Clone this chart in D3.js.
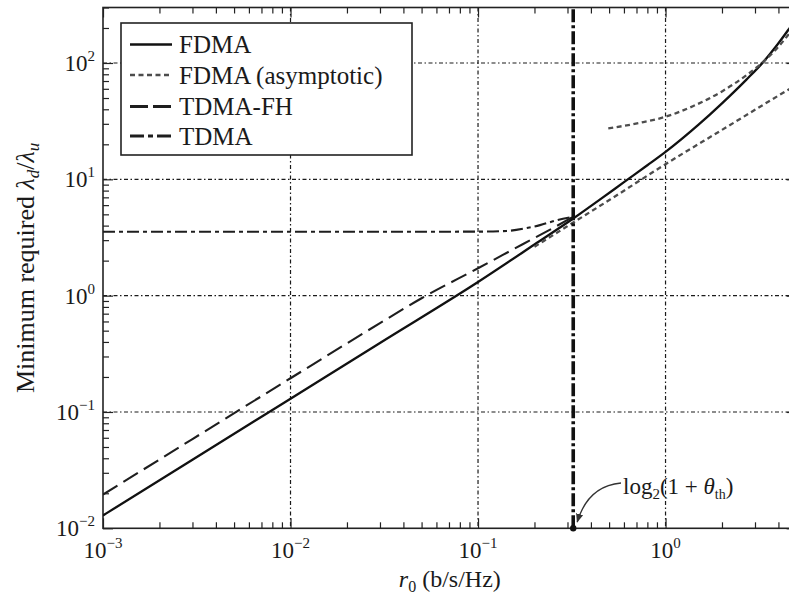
<!DOCTYPE html>
<html>
<head>
<meta charset="utf-8">
<script src="https://cdn.jsdelivr.net/npm/d3@7/dist/d3.min.js"></script>
<style>
  html, body { margin: 0; padding: 0; background: #fff; }
  svg { display: block; }
  text { font-family: "Liberation Serif", "Times New Roman", serif; fill: #1a1a1a; }
</style>
</head>
<body>
<svg id="chart" width="789" height="603"></svg>
<script>
// Rate axis r0 (b/s/Hz) and minimum required density ratio for each scheme.
const rateFDMA   = [0.001, 0.003, 0.01, 0.03, 0.1, 0.2, 0.322, 0.45, 0.608, 0.8, 1, 1.5, 2, 2.7, 3.32, 4, 4.52, 5];
const ratioFDMA  = [0.0129, 0.0388, 0.13, 0.392, 1.31, 2.75, 4.6, 6.75, 9.6, 13.2, 17.2, 29.5, 45, 72, 102, 148, 193, 243];

// Two asymptotic expressions for FDMA (low-rate and high-rate regimes).
const rateAsymLow   = [0.2, 0.322, 0.506, 1, 2, 4.52, 5];
const ratioAsymLow  = [2.63, 4.25, 6.7, 13.5, 26.6, 59, 65];
const rateAsymHigh  = [0.495, 0.73, 1, 1.407, 2, 2.71, 3.19, 4, 4.52, 5];
const ratioAsymHigh = [27.4, 30.6, 34.5, 42.7, 57, 78.8, 96.7, 138, 175, 215];

const rateTDMAFH  = [0.001, 0.003, 0.01, 0.03, 0.05, 0.1, 0.174, 0.25, 0.322];
const ratioTDMAFH = [0.0195, 0.0585, 0.195, 0.58, 0.95, 1.72, 2.78, 3.8, 4.77];

const rateTDMA  = [0.001, 0.01, 0.1, 0.142, 0.18, 0.214, 0.263, 0.322];
const ratioTDMA = [3.54, 3.54, 3.55, 3.6, 3.8, 4.04, 4.45, 4.77];

// log2(1 + theta_th) with theta_th = 0.25
const thresholdRate = Math.log2(1 + 0.25);

const xMajor = [1e-3, 1e-2, 1e-1, 1];
const yMajor = [1e-2, 1e-1, 1, 10, 100];
const legendLabels = ["FDMA", "FDMA (asymptotic)", "TDMA-FH", "TDMA"];

// ---------------------------------------------------------------
const svg = d3.select("#chart");
const pLeft = 103, pRight = 796.6, pTop = 7.5, pBottom = 528.3;

const x = d3.scaleLog().domain([1e-3, 5]).range([pLeft, pRight]);
const y = d3.scaleLog().domain([1e-2, 300]).range([pBottom, pTop]);

function minors(majors, maxVal) {
  const out = [];
  majors.forEach(m => { for (let k = 2; k <= 9; k++) { const v = m * k; if (v <= maxVal) out.push(v); } });
  return out;
}
const xMinor = minors(xMajor, 5);
const yMinor = minors(yMajor, 300);

const defs = svg.append("defs");
defs.append("clipPath").attr("id", "plotclip")
  .append("rect").attr("x", pLeft).attr("y", pTop).attr("width", pRight - pLeft).attr("height", pBottom - pTop);

const plot = svg.append("g");

// Grid at decades
const gridStyle = sel => sel.attr("stroke", "#1a1a1a").attr("stroke-width", 1.2)
  .attr("stroke-dasharray", "4,2.5,1.5,2.5").attr("fill", "none");
plot.append("g").selectAll("line").data(xMajor.filter(v => v > 1e-3)).join("line")
  .attr("x1", d => x(d)).attr("x2", d => x(d)).attr("y1", pTop).attr("y2", pBottom).call(gridStyle);
plot.append("g").selectAll("line").data(yMajor.filter(v => v > 1e-2)).join("line")
  .attr("x1", pLeft).attr("x2", pRight).attr("y1", d => y(d)).attr("y2", d => y(d)).call(gridStyle);

// Ticks drawn inward on all four sides
const ax = plot.append("g");
[[xMajor, 10], [xMinor, 6]].forEach(([vals, len]) => {
  ax.append("g").attr("transform", `translate(0,${pBottom})`)
    .call(d3.axisBottom(x).tickValues(vals).tickSize(-len).tickFormat(""));
  ax.append("g").attr("transform", `translate(0,${pTop})`)
    .call(d3.axisTop(x).tickValues(vals).tickSize(-len).tickFormat(""));
});
[[yMajor, 10], [yMinor, 6]].forEach(([vals, len]) => {
  ax.append("g").attr("transform", `translate(${pLeft},0)`)
    .call(d3.axisLeft(y).tickValues(vals).tickSize(-len).tickFormat(""));
  ax.append("g").attr("transform", `translate(${pRight},0)`)
    .call(d3.axisRight(y).tickValues(vals).tickSize(-len).tickFormat(""));
});
ax.selectAll(".domain").remove();
ax.selectAll("line").attr("stroke", "#222").attr("stroke-width", 1.2);

// Frame
plot.append("rect").attr("x", pLeft).attr("y", pTop).attr("width", pRight - pLeft).attr("height", pBottom - pTop)
  .attr("fill", "none").attr("stroke", "#222").attr("stroke-width", 1.6);

// Tick labels (powers of ten)
function powerLabel(sel, v) {
  const e = Math.round(Math.log10(v));
  sel.append("tspan").text("10");
  sel.append("tspan").attr("dy", -10).attr("font-size", 15).text(e < 0 ? "\u2212" + (-e) : String(e));
}
xMajor.forEach(v => {
  svg.append("text").attr("x", x(v)).attr("y", 558).attr("text-anchor", "middle")
    .attr("font-size", 23).call(powerLabel, v);
});
yMajor.forEach(v => {
  svg.append("text").attr("x", 95).attr("y", y(v) + 8).attr("text-anchor", "end")
    .attr("font-size", 23).call(powerLabel, v);
});

// Axis titles
const xt = svg.append("text").attr("x", (pLeft + pRight) / 2).attr("y", 587).attr("text-anchor", "middle").attr("font-size", 24);
xt.append("tspan").attr("font-style", "italic").text("r");
xt.append("tspan").attr("dy", 5).attr("font-size", 16).text("0");
xt.append("tspan").attr("dy", -5).text(" (b/s/Hz)");

const yt = svg.append("text").attr("transform", `translate(34,${(pTop + pBottom) / 2}) rotate(-90)`)
  .attr("text-anchor", "middle").attr("font-size", 26);
yt.append("tspan").text("Minimum required ");
yt.append("tspan").attr("font-style", "italic").text("\u03bb");
yt.append("tspan").attr("dy", 5).attr("font-size", 17).attr("font-style", "italic").text("d");
yt.append("tspan").attr("dy", -5).text("/");
yt.append("tspan").attr("font-style", "italic").text("\u03bb");
yt.append("tspan").attr("dy", 5).attr("font-size", 17).attr("font-style", "italic").text("u");

// Series
const styles = {
  fdma:  { stroke: "#111", width: 2.3, dash: null },
  asym:  { stroke: "#4d4d4d", width: 2.3, dash: "5,3.5" },
  fh:    { stroke: "#1e1e1e", width: 2.1, dash: "17,7" },
  tdma:  { stroke: "#1e1e1e", width: 2.1, dash: "12,4,4,4" }
};
const lineGen = d3.line().x(d => x(d[0])).y(d => y(d[1])).curve(d3.curveMonotoneX);
const zipPts = (a, b) => a.map((r, i) => [r, b[i]]);
const curves = plot.append("g").attr("clip-path", "url(#plotclip)");
function drawSeries(pts, st) {
  curves.append("path").datum(pts).attr("d", lineGen).attr("fill", "none")
    .attr("stroke", st.stroke).attr("stroke-width", st.width)
    .attr("stroke-dasharray", st.dash).attr("stroke-linecap", "butt");
}
drawSeries(zipPts(rateTDMA, ratioTDMA), styles.tdma);
drawSeries(zipPts(rateTDMAFH, ratioTDMAFH), styles.fh);
drawSeries(zipPts(rateFDMA, ratioFDMA), styles.fdma);
drawSeries(zipPts(rateAsymLow, ratioAsymLow), styles.asym);
drawSeries(zipPts(rateAsymHigh, ratioAsymHigh), styles.asym);

// TDMA becomes infeasible at r0 = log2(1 + theta_th)
curves.append("line").attr("x1", x(thresholdRate)).attr("x2", x(thresholdRate))
  .attr("y1", y(1e-2)).attr("y2", y(300))
  .attr("stroke", "#111").attr("stroke-width", 3.6).attr("stroke-dasharray", "13,3,3,3");

// Annotation with arrow
defs.append("marker").attr("id", "ah").attr("viewBox", "0 0 10 10").attr("refX", 9).attr("refY", 5)
  .attr("markerWidth", 7).attr("markerHeight", 7).attr("orient", "auto")
  .append("path").attr("d", "M0,1 L10,5 L0,9 Z").attr("fill", "#333");
const ax0 = x(thresholdRate);
svg.append("path")
  .attr("d", `M621,483 Q588,486 ${ax0 + 4},522`)
  .attr("fill", "none").attr("stroke", "#333").attr("stroke-width", 1.3).attr("marker-end", "url(#ah)");
svg.append("circle").attr("cx", ax0).attr("cy", y(1e-2)).attr("r", 3.2).attr("fill", "#111");
const an = svg.append("text").attr("x", 623).attr("y", 494).attr("font-size", 23);
an.append("tspan").text("log");
an.append("tspan").attr("dy", 5).attr("font-size", 15).text("2");
an.append("tspan").attr("dy", -5).text("(1 + ");
an.append("tspan").attr("font-style", "italic").text("\u03b8");
an.append("tspan").attr("dy", 5).attr("font-size", 14).text("th");
an.append("tspan").attr("dy", -5).text(")");

// Legend
const lg = svg.append("g");
lg.append("rect").attr("x", 121).attr("y", 23).attr("width", 291).attr("height", 132)
  .attr("fill", "#fff").attr("stroke", "#222").attr("stroke-width", 1.6);
const legendStyles = [styles.fdma, styles.asym, { stroke: "#1e1e1e", width: 2.6, dash: "18,5" }, { stroke: "#1e1e1e", width: 2.6, dash: "14,4,5,4" }];
const rowY = [44.5, 75, 106.5, 136];
legendLabels.forEach((lab, i) => {
  const st = legendStyles[i];
  lg.append("line").attr("x1", 130).attr("x2", 172).attr("y1", rowY[i]).attr("y2", rowY[i])
    .attr("stroke", st.stroke).attr("stroke-width", st.width + 0.3).attr("stroke-dasharray", st.dash);
  lg.append("text").attr("x", 179).attr("y", rowY[i] + 8.5).attr("font-size", 25).text(lab);
});
</script>
</body>
</html>
